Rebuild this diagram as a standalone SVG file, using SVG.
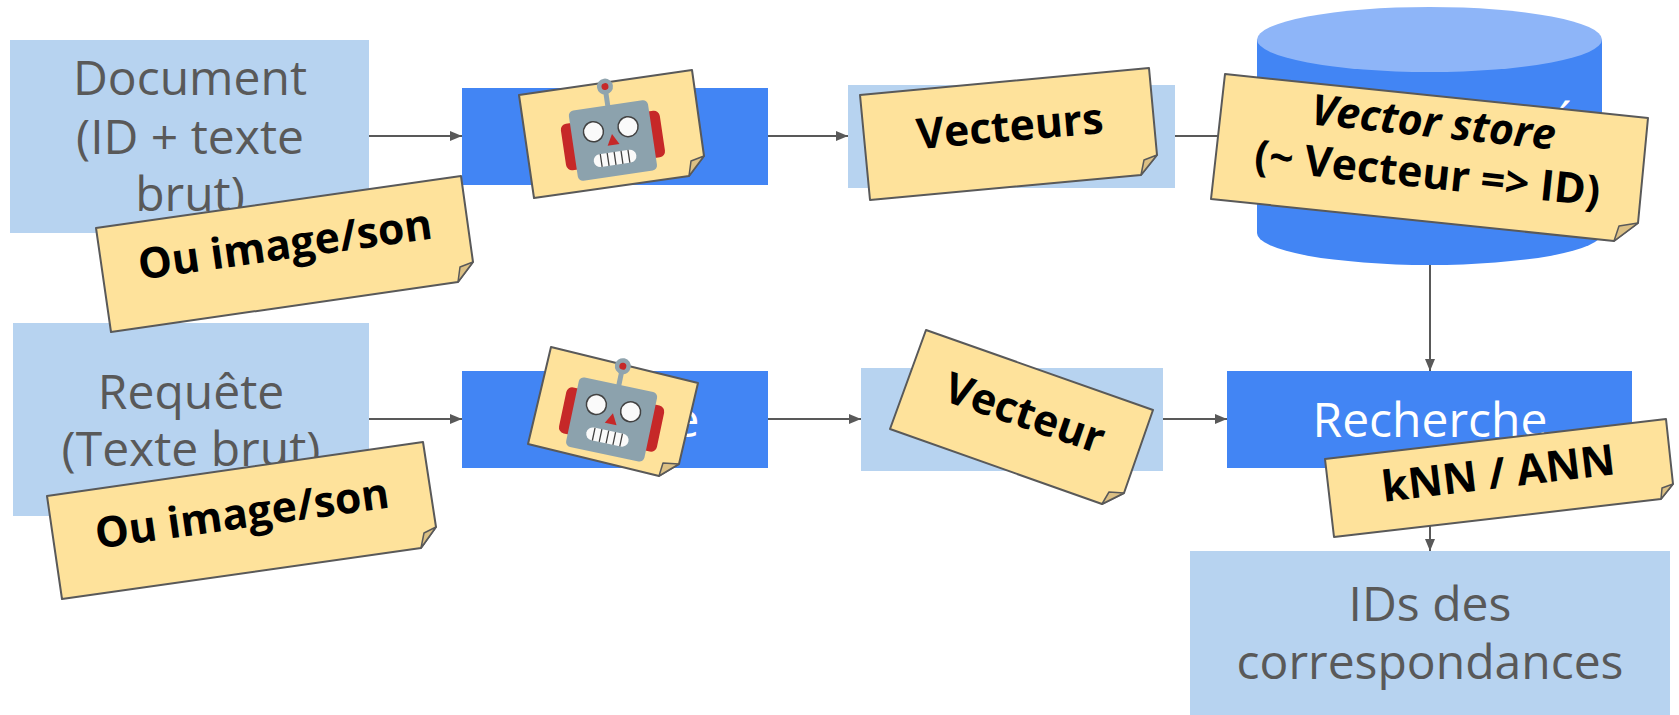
<svg xmlns="http://www.w3.org/2000/svg" xmlns:xlink="http://www.w3.org/1999/xlink" width="1679" height="715" viewBox="0 0 1679 715">
<style>
text{font-family:"Open Sans","Noto Sans","Liberation Sans",sans-serif;text-anchor:middle}
.lb{fill:#b7d3f0}.bl{fill:#4285f4}
.t{font-size:48px;fill:#595959}.w{font-size:48px;fill:#fff}
.n{font-size:42.700px;font-weight:700;fill:#000}
.note{fill:#fee29b;stroke:#595959;stroke-width:2;stroke-linejoin:round}
.fold{fill:#dcc084;stroke:#595959;stroke-width:1.5;stroke-linejoin:round}
.c{fill:none;stroke:#595959;stroke-width:2}
</style>
<defs>
<marker id="a" markerUnits="userSpaceOnUse" markerWidth="12" markerHeight="10" refX="12" refY="5" orient="auto"><path d="M0 0L12 5L0 10Z" fill="#595959"/></marker>
<g id="robot">
<rect x="-50" y="-24" width="100" height="47" rx="6" fill="#c62828"/>
<rect x="-2.500" y="-50" width="5" height="16" fill="#90a4ae"/>
<circle cy="-55" r="8" fill="#90a4ae"/><circle cy="-55" r="3.500" fill="#c62828"/>
<rect x="-40" y="-36" width="80" height="71" rx="5" fill="#8ca2ad"/>
<circle cx="-18" cy="-12" r="10" fill="#fafafa" stroke="#424242" stroke-width="1.500"/>
<circle cx="17" cy="-12" r="10" fill="#fafafa" stroke="#424242" stroke-width="1.500"/>
<path d="M0-7L6 4H-6Z" fill="#c62828"/>
<rect x="-22" y="11" width="43" height="13" rx="6.500" fill="#fafafa"/>
<path d="M-14.500 11V24M-7.500 11V24M-.5 11V24M6.500 11V24M13.500 11V24" stroke="#424242" stroke-width="1.300"/>
</g>
</defs>
<g id="connectors">
<path class="c" marker-end="url(#a)" d="M369 136H462"/>
<path class="c" marker-end="url(#a)" d="M768 136H848"/>
<path class="c" d="M1175 136H1257"/>
<path class="c" marker-end="url(#a)" d="M1430 265V371"/>
<path class="c" marker-end="url(#a)" d="M369 419H462"/>
<path class="c" marker-end="url(#a)" d="M768 419H861"/>
<path class="c" marker-end="url(#a)" d="M1163 419H1227"/>
<path class="c" marker-end="url(#a)" d="M1430 468V551"/>
</g>
<g id="document"><rect class="lb" x="10" y="40" width="359" height="193"/>
<text class="t" x="190" y="95">Document</text><text class="t" x="190" y="154">(ID + texte</text><text class="t" x="190" y="211">brut)</text></g>
<g id="embed1"><rect class="bl" x="462" y="88" width="306" height="97"/></g>
<g id="vecteurs-box"><rect class="lb" x="848" y="85" width="327" height="103"/></g>
<g id="store">
<path class="bl" d="M1257 40V233A172.500 32 0 0 0 1602 233V40Z"/>
<ellipse cx="1429.500" cy="39.500" rx="172.500" ry="32.500" fill="#8eb5f8"/>
<text class="w" x="1565" y="137">´</text>
</g>
<g id="requete"><rect class="lb" x="13" y="323" width="356" height="193"/>
<text class="t" x="191" y="409">Requête</text><text class="t" x="191" y="466">(Texte brut)</text></g>
<g id="embed2"><rect class="bl" x="462" y="371" width="306" height="97"/>
<text class="w" x="686" y="437">e</text></g>
<g id="vecteur-box"><rect class="lb" x="861" y="368" width="302" height="103"/></g>
<g id="recherche"><rect class="bl" x="1227" y="371" width="405" height="97"/>
<text class="w" x="1430" y="437">Recherche</text></g>
<g id="ids"><rect class="lb" x="1190" y="551" width="480" height="164"/>
<text class="t" x="1430" y="621">IDs des</text><text class="t" x="1430" y="679">correspondances</text></g>

<g id="note-image1"><path class="note" d="M96 228L461 176L473 262L458 282L111 332Z"/><path class="fold" d="M473 262L460 267L458 282Z"/>
<text class="n" transform="translate(287 259) rotate(-8)">Ou image/son</text></g>
<g id="note-robot1"><path class="note" d="M519 95L692 70L704 156L689 176L534 198Z"/><path class="fold" d="M704 156L691 161L689 176Z"/>
<use href="#robot" transform="translate(613 141) rotate(-8.400)"/></g>
<g id="note-vecteurs"><path class="note" d="M860 95L1149 68L1157 155L1141 175L870 200Z"/><path class="fold" d="M1157 155L1144 160L1141 175Z"/>
<text class="n" transform="translate(1011 141) rotate(-5)">Vecteurs</text></g>
<g id="note-store"><path class="note" d="M1225 74L1648 118L1638 223L1614 241L1211 199Z"/><path class="fold" d="M1638 223L1619 226L1614 241Z"/>
<text class="n" font-style="italic" transform="translate(1432 137) rotate(6)">Vector store</text>
<text class="n" transform="translate(1426 188) rotate(6)">(~ Vecteur =&gt; ID)</text></g>
<g id="note-robot2"><path class="note" d="M551 347L698 383L679 464L659 476L528 444Z"/><path class="fold" d="M679 464L663 463L659 476Z"/>
<use href="#robot" transform="translate(611.500 420) rotate(11.900)"/></g>
<g id="note-image2"><path class="note" d="M47 496L423 442L436 527L421 548L62 599Z"/><path class="fold" d="M436 527L424 533L421 548Z"/>
<text class="n" transform="translate(244 528) rotate(-8)">Ou image/son</text></g>
<g id="note-vecteur"><path class="note" d="M926 330L1153 410L1124 493L1102 504L890 429Z"/><path class="fold" d="M1124 493L1109 492L1102 504Z"/>
<text class="n" transform="translate(1020 427) rotate(19)">Vecteur</text></g>
<g id="note-knn"><path class="note" d="M1325 459L1666 419L1673 484L1661 499L1334 537Z"/><path class="fold" d="M1673 484L1662 488L1661 499Z"/>
<text class="n" transform="translate(1500 488) rotate(-6.800)">kNN / ANN</text></g>
</svg>
